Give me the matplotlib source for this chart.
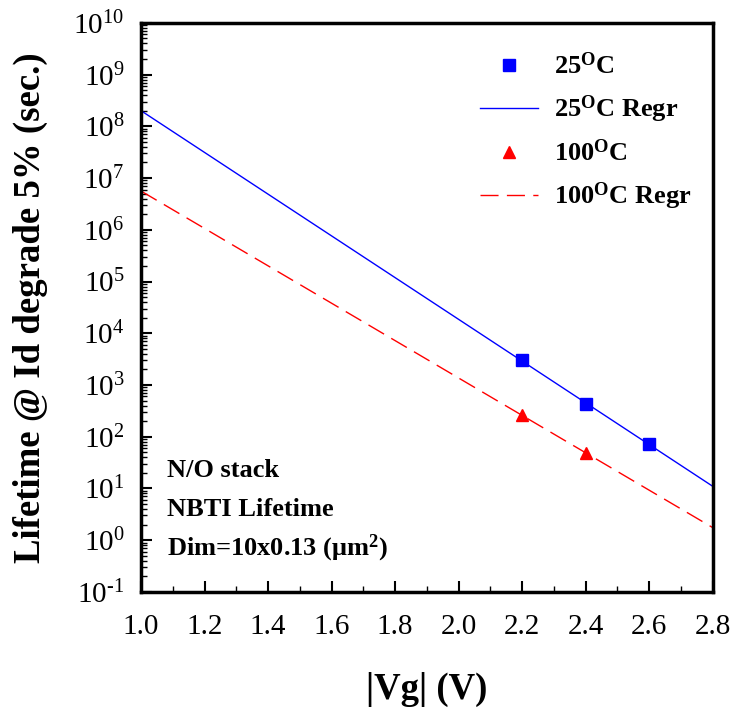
import matplotlib
matplotlib.use("Agg")
import matplotlib.pyplot as plt
from matplotlib.ticker import LogLocator, FuncFormatter, MultipleLocator, NullFormatter
import numpy as np

plt.rcParams['font.family'] = ['Liberation Serif', 'DejaVu Serif']
plt.rcParams['mathtext.fontset'] = 'custom'
plt.rcParams['mathtext.rm'] = 'Liberation Serif'
plt.rcParams['mathtext.it'] = 'Liberation Serif:italic'
plt.rcParams['mathtext.bf'] = 'Liberation Serif:bold'
plt.rcParams['axes.unicode_minus'] = False

# measured points
vg_25 = [2.2, 2.4, 2.6]
life_25 = [3.1e3, 4.3e2, 7.3e1]
vg_100 = [2.2, 2.4]
life_100 = [2.6e2, 4.8e1]

# regression line end points
reg_vg = [1.0, 2.8]
reg_25 = [2.0e8, 1.1e1]
reg_100 = [5.6e6, 1.75e0]


def pow10(v, pos):
    e = int(round(np.log10(v)))
    if e < 0:
        return r'$10^{\text{-%d}}$' % (-e)
    return r'$10^{%d}$' % e


fig = plt.figure(figsize=(7.31, 7.14), dpi=100)
ax = fig.add_axes([0.193, 0.171, 0.782, 0.797])

ax.plot(vg_25, life_25, ls='none', marker='s', ms=8, color='#0000ff', label=r'25$^\mathbf{O}$C')
ax.plot(reg_vg, reg_25, color='#0000ff', lw=1.0, label=r'25$^\mathbf{O}$C Regr')
ax.plot(vg_100, life_100, ls='none', marker='^', ms=9, color='#ff0000', label=r'100$^\mathbf{O}$C')
ax.plot(reg_vg, reg_100, color='#ff0000', lw=1.0, dashes=(13, 6), label=r'100$^\mathbf{O}$C Regr')

ax.set_yscale('log')
ax.set_xlim(1.0, 2.8)
ax.set_ylim(1e-1, 1e10)
ax.xaxis.set_major_locator(MultipleLocator(0.2))
ax.xaxis.set_minor_locator(MultipleLocator(0.1))
ax.xaxis.set_major_formatter(matplotlib.ticker.FormatStrFormatter('%.1f'))
ax.yaxis.set_major_locator(LogLocator(base=10, numticks=20))
ax.yaxis.set_minor_locator(LogLocator(base=10, subs=range(2, 10), numticks=20))
ax.yaxis.set_major_formatter(FuncFormatter(pow10))
ax.yaxis.set_minor_formatter(NullFormatter())

for s in ax.spines.values():
    s.set_linewidth(2.5)
ax.tick_params(which='major', direction='in', length=8, width=1.5, labelsize=21, pad=12)
ax.tick_params(which='minor', direction='in', length=4, width=1.0)
ax.tick_params(axis='x', pad=16)

ax.set_xlabel('|Vg| (V)', fontsize=26.5, fontweight='bold', va='top')
ax.set_ylabel('Lifetime @ Id degrade 5% (sec.)', fontsize=26.5, fontweight='bold')
ax.xaxis.set_label_coords(0.5, -0.14)
ax.yaxis.set_label_coords(-0.163, 0.5)

leg = ax.legend(loc='upper right', frameon=False, prop={'size': 19, 'weight': 'bold'},
                handlelength=2.2, labelspacing=0.55, borderaxespad=0.3, handletextpad=0.6,
                bbox_to_anchor=(0.995, 0.98))

ax.text(0.045, 0.214, 'N/O stack', transform=ax.transAxes, fontsize=19, fontweight='bold', va='center')
ax.text(0.045, 0.144, 'NBTI Lifetime', transform=ax.transAxes, fontsize=19, fontweight='bold', va='center')
ax.text(0.045, 0.077, r'Dim=10x0.13 (μm$^\mathbf{2}$)', transform=ax.transAxes, fontsize=19,
        fontweight='bold', va='center')

fig.savefig('out.png', dpi=100)
